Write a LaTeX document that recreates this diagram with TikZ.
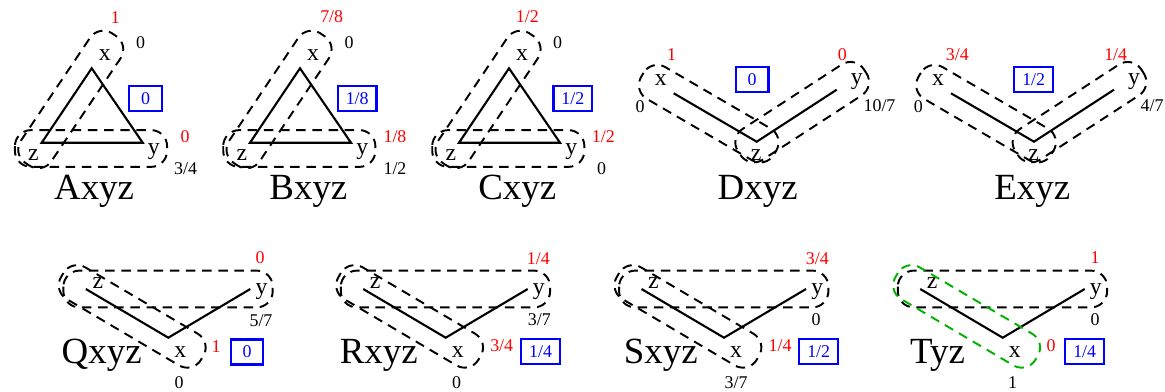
\documentclass[tikz,border=0pt]{standalone}
\usepackage{fontspec}
\setmainfont{Liberation Serif}
\usetikzlibrary{calc}
\definecolor{figgreen}{RGB}{0,178,0}

% lazo discontinuo alrededor de dos puntos
\newcommand{\grouploop}[3][]{%
  \draw[hull,#1] ($(#2)!0.52cm!135:(#3)$) -- ($(#2)!0.52cm!-135:(#3)$)
    -- ($(#3)!0.52cm!135:(#2)$) -- ($(#3)!0.52cm!-135:(#2)$) -- cycle;}

\begin{document}
\begin{tikzpicture}[
                every node/.style={inner sep=0pt},
                vtx/.style={font=\fontsize{13.5}{16}\selectfont},
                val/.style={font=\fontsize{10.2}{12}\selectfont},
                redval/.style={val, text=red},
                res/.style={val, draw=blue, text=blue, line width=1.4pt, minimum width=0.65cm, minimum height=0.5cm, inner xsep=0.16cm},
                tag/.style={font=\fontsize{21}{24}\selectfont, anchor=base},
                side/.style={line width=1.2pt},
                hull/.style={draw=black, line width=1.1pt, dash pattern=on 5.4pt off 3.8pt, rounded corners=0.32cm},
            ]
            \useasboundingbox (0,0) rectangle (23.3,7.82);

            % Grafo Axyz
            \begin{scope}[shift={(1.834,6.454)}]
                \coordinate (t) at (0,0); \coordinate (bl) at (-1,-1.488); \coordinate (br) at (1.02,-1.488);
                \node[vtx] (x) at (0.26,0.26) {x}; \node[vtx] (y) at (1.244,-1.668) {y}; \node[vtx] (z) at (-1.164,-1.742) {z};
                \draw[side] (t) -- (bl) -- (br) -- cycle;
                \coordinate (h1) at (-1.168,-1.604); \coordinate (h2) at (1.14,-1.604);
                \coordinate (d1) at ($(bl)!-0.15cm!(t)$); \coordinate (d2) at ($(t)!-0.44cm!(bl)$);
                \grouploop{h1}{h2} \grouploop{d1}{d2}
                \node[redval] (rx) at (0.472,1.022) {1}; \node[val] (bx) at (0.98,0.512) {0};
                \node[redval] (ry) at (1.866,-1.368) {0}; \node[val] (by) at (1.88,-2.0) {3/4};
                \node[res] (res) at (1.076,-0.604) {0};
                \node[tag] (tag) at (0.048,-2.634) {Axyz};
            \end{scope}

            % Grafo Bxyz
            \begin{scope}[shift={(6.0,6.454)}]
                \coordinate (t) at (0,0); \coordinate (bl) at (-1,-1.488); \coordinate (br) at (1.02,-1.488);
                \node[vtx] (x) at (0.26,0.26) {x}; \node[vtx] (y) at (1.244,-1.668) {y}; \node[vtx] (z) at (-1.164,-1.742) {z};
                \draw[side] (t) -- (bl) -- (br) -- cycle;
                \coordinate (h1) at (-1.168,-1.604); \coordinate (h2) at (1.14,-1.604);
                \coordinate (d1) at ($(bl)!-0.15cm!(t)$); \coordinate (d2) at ($(t)!-0.44cm!(bl)$);
                \grouploop{h1}{h2} \grouploop{d1}{d2}
                \node[redval] (rx) at (0.634,1.032) {7/8}; \node[val] (bx) at (0.98,0.512) {0};
                \node[redval] (ry) at (1.9,-1.368) {1/8}; \node[val] (by) at (1.9,-2.0) {1/2};
                \node[res] (res) at (1.144,-0.604) {1/8};
                \node[tag] (tag) at (0.168,-2.634) {Bxyz};
            \end{scope}

            % Grafo Cxyz
            \begin{scope}[shift={(10.18,6.454)}]
                \coordinate (t) at (0,0); \coordinate (bl) at (-1,-1.488); \coordinate (br) at (1.02,-1.488);
                \node[vtx] (x) at (0.26,0.26) {x}; \node[vtx] (y) at (1.244,-1.668) {y}; \node[vtx] (z) at (-1.164,-1.742) {z};
                \draw[side] (t) -- (bl) -- (br) -- cycle;
                \coordinate (h1) at (-1.168,-1.604); \coordinate (h2) at (1.14,-1.604);
                \coordinate (d1) at ($(bl)!-0.15cm!(t)$); \coordinate (d2) at ($(t)!-0.44cm!(bl)$);
                \grouploop{h1}{h2} \grouploop{d1}{d2}
                \node[redval] (rx) at (0.366,1.032) {1/2}; \node[val] (bx) at (0.974,0.512) {0};
                \node[redval] (ry) at (1.886,-1.368) {1/2}; \node[val] (by) at (1.854,-2.0) {0};
                \node[res] (res) at (1.276,-0.604) {1/2};
                \node[tag] (tag) at (0.164,-2.634) {Cxyz};
            \end{scope}

            % Grafo Dxyz
            \begin{scope}[shift={(15.134,4.986)}]
                \coordinate (v) at (0,0); \coordinate (l) at (-1.66,0.968); \coordinate (r) at (1.6,1.04);
                \node[vtx] (x) at (-1.92,1.24) {x}; \node[vtx] (y) at (2.0,1.2) {y}; \node[vtx] (z) at (-0.01,-0.266) {z};
                \draw[side] (l) -- (v) -- (r);
                \coordinate (a1) at ($(l)!-0.36cm!(v)$); \coordinate (a2) at ($(v)!-0.06cm!(l)$);
                \coordinate (b1) at ($(r)!-0.31cm!(v)$); \coordinate (b2) at ($(v)!-0.05cm!(r)$);
                \grouploop{a1}{a2} \grouploop{b1}{b2}
                \node[redval] (rx) at (-1.7,1.734) {1}; \node[val] (bx) at (-2.334,0.7) {0};
                \node[redval] (ry) at (1.712,1.734) {0}; \node[val] (by) at (2.456,0.714) {10/7};
                \node[res] (res) at (-0.09,1.244) {0};
                \node[tag] (tag) at (0.02,-1.166) {Dxyz};
            \end{scope}

            % Grafo Exyz
            \begin{scope}[shift={(20.68,4.986)}]
                \coordinate (v) at (0,0); \coordinate (l) at (-1.66,0.968); \coordinate (r) at (1.6,1.04);
                \node[vtx] (x) at (-1.92,1.24) {x}; \node[vtx] (y) at (2.0,1.2) {y}; \node[vtx] (z) at (-0.01,-0.266) {z};
                \draw[side] (l) -- (v) -- (r);
                \coordinate (a1) at ($(l)!-0.36cm!(v)$); \coordinate (a2) at ($(v)!-0.06cm!(l)$);
                \coordinate (b1) at ($(r)!-0.31cm!(v)$); \coordinate (b2) at ($(v)!-0.05cm!(r)$);
                \grouploop{a1}{a2} \grouploop{b1}{b2}
                \node[redval] (rx) at (-1.534,1.734) {3/4}; \node[val] (bx) at (-2.314,0.7) {0};
                \node[redval] (ry) at (1.634,1.734) {1/4}; \node[val] (by) at (2.36,0.714) {4/7};
                \node[res] (res) at (-0.006,1.244) {1/2};
                \node[tag] (tag) at (-0.034,-1.166) {Exyz};
            \end{scope}

            % Grafo Qxyz
            \begin{scope}[shift={(3.366,1.066)}]
                \coordinate (v) at (0,0); \coordinate (l) at (-1.65,0.974); \coordinate (r) at (1.64,0.974);
                \node[vtx] (z) at (-1.41,1.088) {z}; \node[vtx] (y) at (1.864,0.92) {y}; \node[vtx] (x) at (0.24,-0.28) {x};
                \draw[side] (l) -- (v) -- (r);
                \coordinate (h1) at ($(l)!-0.08cm!(r)$); \coordinate (h2) at ($(r)!-0.08cm!(l)$);
                \coordinate (d1) at ($(l)!-0.18cm!(v)$); \coordinate (d2) at ($(v)!-0.42cm!(l)$);
                \grouploop{h1}{h2} \grouploop{d1}{d2}
                \node[redval] (ry) at (1.834,1.608) {0}; \node[val] (by) at (1.854,0.34) {5/7};
                \node[redval] (rx) at (0.954,-0.18) {1}; \node[val] (bx) at (0.214,-0.89) {0};
                \node[res] (res) at (1.574,-0.286) {0};
                \node[tag] (tag) at (-1.332,-0.512) {Qxyz};
            \end{scope}

            % Grafo Rxyz
            \begin{scope}[shift={(8.914,1.066)}]
                \coordinate (v) at (0,0); \coordinate (l) at (-1.65,0.974); \coordinate (r) at (1.64,0.974);
                \node[vtx] (z) at (-1.41,1.088) {z}; \node[vtx] (y) at (1.864,0.92) {y}; \node[vtx] (x) at (0.24,-0.28) {x};
                \draw[side] (l) -- (v) -- (r);
                \coordinate (h1) at ($(l)!-0.08cm!(r)$); \coordinate (h2) at ($(r)!-0.08cm!(l)$);
                \coordinate (d1) at ($(l)!-0.18cm!(v)$); \coordinate (d2) at ($(v)!-0.42cm!(l)$);
                \grouploop{h1}{h2} \grouploop{d1}{d2}
                \node[redval] (ry) at (1.852,1.588) {1/4}; \node[val] (by) at (1.872,0.354) {3/7};
                \node[redval] (rx) at (1.12,-0.166) {3/4}; \node[val] (bx) at (0.22,-0.89) {0};
                \node[res] (res) at (1.896,-0.28) {1/4};
                \node[tag] (tag) at (-1.338,-0.512) {Rxyz};
            \end{scope}

            % Grafo Sxyz
            \begin{scope}[shift={(14.48,1.066)}]
                \coordinate (v) at (0,0); \coordinate (l) at (-1.65,0.974); \coordinate (r) at (1.64,0.974);
                \node[vtx] (z) at (-1.41,1.088) {z}; \node[vtx] (y) at (1.864,0.92) {y}; \node[vtx] (x) at (0.24,-0.28) {x};
                \draw[side] (l) -- (v) -- (r);
                \coordinate (h1) at ($(l)!-0.08cm!(r)$); \coordinate (h2) at ($(r)!-0.08cm!(l)$);
                \coordinate (d1) at ($(l)!-0.18cm!(v)$); \coordinate (d2) at ($(v)!-0.42cm!(l)$);
                \grouploop{h1}{h2} \grouploop{d1}{d2}
                \node[redval] (ry) at (1.866,1.588) {3/4}; \node[val] (by) at (1.84,0.368) {0};
                \node[redval] (rx) at (1.12,-0.166) {1/4}; \node[val] (bx) at (0.24,-0.89) {3/7};
                \node[res] (res) at (1.894,-0.28) {1/2};
                \node[tag] (tag) at (-1.264,-0.512) {Sxyz};
            \end{scope}

            % Grafo Tyz (lazo verde)
            \begin{scope}[shift={(20.054,1.066)}]
                \coordinate (v) at (0,0); \coordinate (l) at (-1.65,0.974); \coordinate (r) at (1.64,0.974);
                \node[vtx] (z) at (-1.41,1.088) {z}; \node[vtx] (y) at (1.864,0.92) {y}; \node[vtx] (x) at (0.24,-0.28) {x};
                \draw[side] (l) -- (v) -- (r);
                \coordinate (h1) at ($(l)!-0.08cm!(r)$); \coordinate (h2) at ($(r)!-0.08cm!(l)$);
                \coordinate (d1) at ($(l)!-0.18cm!(v)$); \coordinate (d2) at ($(v)!-0.42cm!(l)$);
                \grouploop{h1}{h2} \grouploop[draw=figgreen]{d1}{d2}
                \node[redval] (ry) at (1.846,1.608) {1}; \node[val] (by) at (1.846,0.368) {0};
                \node[redval] (rx) at (0.966,-0.166) {0}; \node[val] (bx) at (0.2,-0.89) {1};
                \node[res] (res) at (1.64,-0.28) {1/4};
                \node[tag] (tag) at (-1.304,-0.512) {Tyz};
            \end{scope}
        \end{tikzpicture}
\end{document}
